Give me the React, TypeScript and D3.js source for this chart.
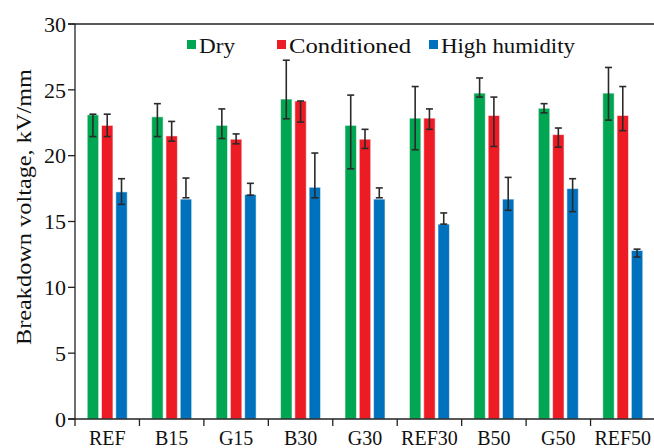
import React from 'react';
import * as d3 from 'd3';

const categories = ['REF', 'B15', 'G15', 'B30', 'G30', 'REF30', 'B50', 'G50', 'REF50'];
const seriesNames = ['Dry', 'Conditioned', 'High humidity'];
const colors = ['#00a651', '#ed1c24', '#0071bc'];

const dry = [23.1, 22.95, 22.3, 24.3, 22.3, 22.85, 24.75, 23.6, 24.75];
const dryLow = [21.45, 21.45, 21.3, 22.8, 19.0, 20.45, 24.45, 23.25, 22.7];
const dryHigh = [23.15, 23.95, 23.55, 27.25, 24.6, 25.25, 25.9, 23.95, 26.7];

const conditioned = [22.3, 21.5, 21.25, 24.15, 21.25, 22.85, 23.05, 21.6, 23.05];
const condLow = [21.45, 21.1, 20.9, 22.55, 20.55, 22.0, 20.7, 20.65, 21.9];
const condHigh = [23.15, 22.6, 21.65, 24.15, 22.0, 23.55, 24.45, 22.1, 25.25];

const humid = [17.25, 16.7, 17.05, 17.6, 16.7, 14.8, 16.7, 17.5, 12.8];
const humidLow = [16.3, 16.8, 17.0, 16.8, 16.8, 14.8, 15.85, 15.75, 12.3];
const humidHigh = [18.25, 18.3, 17.9, 20.2, 17.55, 15.65, 18.35, 18.25, 12.9];

const yTicks = [0, 5, 10, 15, 20, 25, 30];

const values = [dry, conditioned, humid];
const lows = [dryLow, condLow, humidLow];
const highs = [dryHigh, condHigh, humidHigh];

const font = "'Liberation Serif', 'DejaVu Serif', serif";

export default function App() {
  const width = 654;
  const height = 448;
  const margin = { top: 24, right: -1, bottom: 29, left: 75 };

  const x0 = d3
    .scaleBand()
    .domain(categories)
    .range([margin.left, width - margin.right])
    .paddingInner(0)
    .paddingOuter(0);

  const x1 = d3.scaleBand().domain(seriesNames).range([-20, 20]).paddingInner(0.2);

  const y = d3
    .scaleLinear()
    .domain([0, 30])
    .range([height - margin.bottom, margin.top]);

  const bottom = y(0);
  const capW = 3.5;

  // legend positions (swatch x, text x, text width)
  const legend = [
    { x: 187, tx: 199, w: 36 },
    { x: 277, tx: 289, w: 122 },
    { x: 429, tx: 441, w: 134 },
  ];

  return (
    <svg
      width={width}
      height={height}
      style={{ position: 'absolute', left: 0, top: 0, fontFamily: font }}
    >
      <rect width={width} height={height} fill="#fff" />

      {/* bars */}
      {categories.map((cat, i) => {
        const cx = x0(cat)! + x0.bandwidth() / 2;
        return (
          <g key={cat}>
            {seriesNames.map((s, j) => {
              const bx = cx + x1(s)!;
              const v = values[j][i];
              return (
                <rect
                  key={s}
                  x={bx}
                  y={y(v)}
                  width={x1.bandwidth()}
                  height={bottom - y(v)}
                  fill={colors[j]}
                  stroke="#ffffff"
                  strokeOpacity={0.55}
                  strokeWidth={1}
                />
              );
            })}
            {seriesNames.map((s, j) => {
              const ex = cx + x1(s)! + x1.bandwidth() / 2;
              const lo = y(lows[j][i]);
              const hi = y(highs[j][i]);
              return (
                <g key={s + 'e'} stroke="#2a2a2a" strokeWidth={1.6}>
                  <line x1={ex} x2={ex} y1={lo} y2={hi} />
                  <line x1={ex - capW} x2={ex + capW} y1={lo} y2={lo} />
                  <line x1={ex - capW} x2={ex + capW} y1={hi} y2={hi} />
                </g>
              );
            })}
          </g>
        );
      })}

      {/* y axis */}
      <line x1={margin.left} x2={margin.left} y1={y(30)} y2={bottom} stroke="#222" strokeWidth={1.3} />
      <line x1={margin.left - 7} x2={width} y1={y(30)} y2={y(30)} stroke="#222" strokeWidth={1.3} />
      {yTicks.map((t) => (
        <g key={t}>
          <line x1={margin.left - 7} x2={margin.left} y1={y(t)} y2={y(t)} stroke="#222" strokeWidth={1.3} />
          <text x={margin.left - 9} y={y(t)} dy="0.35em" textAnchor="end" fontSize={22} fill="#111">
            {t}
          </text>
        </g>
      ))}
      <text
        transform={`translate(23,207) rotate(-90)`}
        textAnchor="middle"
        fontSize={22}
        fill="#111"
        dy="0.35em"
        textLength={276}
        lengthAdjust="spacingAndGlyphs"
      >
        Breakdown voltage, kV/mm
      </text>

      {/* x axis */}
      <line x1={margin.left - 7} x2={width} y1={bottom} y2={bottom} stroke="#222" strokeWidth={1.3} />
      {categories.map((cat) => (
        <g key={cat}>
          <line x1={x0(cat)!} x2={x0(cat)!} y1={bottom} y2={bottom + 7} stroke="#222" strokeWidth={1.3} />
          <text
            x={x0(cat)! + x0.bandwidth() / 2}
            y={bottom + 19}
            dy="0.35em"
            textAnchor="middle"
            fontSize={20}
            fill="#111"
          >
            {cat}
          </text>
        </g>
      ))}

      {/* legend */}
      {legend.map((p, j) => (
        <g key={seriesNames[j]}>
          <rect x={p.x} y={40} width={9} height={9} fill={colors[j]} />
          <text
            x={p.tx}
            y={45}
            dy="0.35em"
            fontSize={22}
            fill="#111"
            textLength={p.w}
            lengthAdjust="spacingAndGlyphs"
          >
            {seriesNames[j]}
          </text>
        </g>
      ))}
    </svg>
  );
}
